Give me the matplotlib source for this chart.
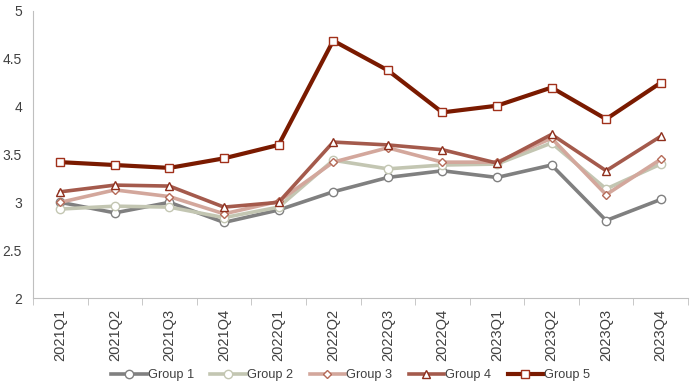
import matplotlib.pyplot as plt
import numpy as np

plt.rcParams['font.family'] = ['Liberation Sans', 'DejaVu Sans']

quarters = ['2021Q1', '2021Q2', '2021Q3', '2021Q4', '2022Q1', '2022Q2',
            '2022Q3', '2022Q4', '2023Q1', '2023Q2', '2023Q3', '2023Q4']
group1 = [3.00, 2.89, 3.00, 2.79, 2.92, 3.11, 3.26, 3.33, 3.26, 3.39, 2.81, 3.03]
group2 = [2.93, 2.96, 2.95, 2.84, 2.95, 3.44, 3.35, 3.39, 3.40, 3.62, 3.14, 3.40]
group3 = [3.00, 3.13, 3.06, 2.88, 3.01, 3.42, 3.57, 3.42, 3.42, 3.67, 3.08, 3.45]
group4 = [3.11, 3.18, 3.17, 2.95, 3.00, 3.63, 3.60, 3.55, 3.41, 3.71, 3.33, 3.69]
group5 = [3.42, 3.39, 3.36, 3.46, 3.60, 4.69, 4.38, 3.94, 4.01, 4.20, 3.87, 4.25]

series = [
    ('Group 1', group1, '#808080', '#808080', 'o', 6, 2.6),
    ('Group 2', group2, '#C3C6B2', '#C3C6B2', 'o', 6, 2.6),
    ('Group 3', group3, '#D3A79C', '#B56A58', 'D', 4.5, 2.6),
    ('Group 4', group4, '#A45A4C', '#8E2E1C', '^', 6, 2.6),
    ('Group 5', group5, '#7A1A00', '#A0301A', 's', 6, 3.0),
]

fig = plt.figure(figsize=(7, 3.9), dpi=100)
ax = fig.add_axes([33 / 700, 1 - 298 / 390, 655 / 700, 287 / 390])

x = np.arange(len(quarters))
for name, vals, col, mec, mk, ms, lw in series:
    ax.plot(x, vals, color=col, lw=lw, marker=mk, markersize=ms,
            markerfacecolor='white', markeredgecolor=mec, markeredgewidth=1.0,
            label=name)

ax.set_xlim(-0.5, len(quarters) - 0.5)
ax.set_ylim(2, 5)
ax.set_yticks([2, 2.5, 3, 3.5, 4, 4.5, 5])
ax.set_yticklabels(['2', '2.5', '3', '3.5', '4', '4.5', '5'])
ax.set_xticks(x)
ax.set_xticklabels(quarters, rotation=90)
ax.set_xticks(np.arange(-0.5, len(quarters)), minor=True)
ax.tick_params(axis='x', which='major', length=0, pad=8, labelsize=10.5, colors='#404040')
ax.tick_params(axis='x', which='minor', length=5, color='#BFBFBF', direction='out')
ax.tick_params(axis='y', length=0, pad=8, labelsize=10, colors='#404040')

for s in ['top', 'right']:
    ax.spines[s].set_visible(False)
ax.spines['left'].set_color('#BFBFBF')
ax.spines['bottom'].set_color('#BFBFBF')

ax.legend(loc='center', bbox_to_anchor=(0.485, -0.27), ncol=5, frameon=False,
          fontsize=9.2, handlelength=2.8, handletextpad=0.05, columnspacing=1.3,
          labelcolor='#404040')

fig.savefig('out.png', dpi=100)
